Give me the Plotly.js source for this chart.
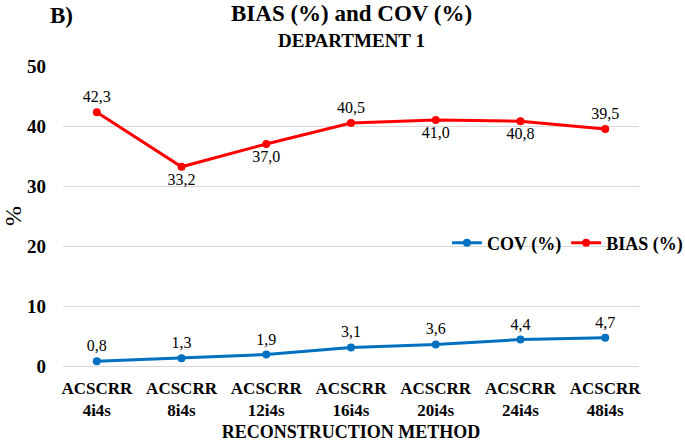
<!DOCTYPE html>
<html>
<head>
<meta charset="utf-8">
<script src="https://cdn.plot.ly/plotly-3.0.1.min.js"></script>
<style>html,body{margin:0;padding:0;background:#fff;}</style>
</head>
<body>
<div id="plotdiv"></div>
<script>
const categories = ['ACSCRR<br>4i4s','ACSCRR<br>8i4s','ACSCRR<br>12i4s','ACSCRR<br>16i4s','ACSCRR<br>20i4s','ACSCRR<br>24i4s','ACSCRR<br>48i4s'];
const covValues = [0.8, 1.3, 1.9, 3.1, 3.6, 4.4, 4.7];
const biasValues = [42.3, 33.2, 37.0, 40.5, 41.0, 40.8, 39.5];
const biasLabelPos = ['top center','bottom center','bottom center','top center','bottom center','bottom center','top center'];

const fmt = v => v.toFixed(1).replace('.', ',');
const F = 'Liberation Serif';

const traces = [
  {
    x: categories, y: covValues, name: '<b>COV (%)</b>', type: 'scatter', mode: 'lines+markers+text',
    line: {color: '#0070C0', width: 3}, marker: {color: '#0070C0', size: 8},
    text: covValues.map(fmt), textposition: 'top center',
    textfont: {family: F, size: 16}, cliponaxis: false
  },
  {
    x: categories, y: biasValues, name: '<b>BIAS (%)</b>', type: 'scatter', mode: 'lines+markers+text',
    line: {color: '#FF0000', width: 3}, marker: {color: '#FF0000', size: 8},
    text: biasValues.map(fmt), textposition: biasLabelPos,
    textfont: {family: F, size: 16}, cliponaxis: false
  }
];

const layout = {
  width: 685, height: 442,
  margin: {l: 63, r: 46, t: 66, b: 76, autoexpand: false},
  font: {family: F, color: '#000000'},
  showlegend: true,
  legend: {orientation: 'h', x: 1.085, xanchor: 'right', y: 0.41, yanchor: 'middle',
           font: {family: F, size: 18}, bgcolor: 'rgba(0,0,0,0)', itemwidth: 30, tracegroupgap: 0},
  xaxis: {
    type: 'category', showgrid: false, zeroline: false, showline: false, ticks: '', automargin: false,
    ticklabelstandoff: 10,
    tickfont: {family: F, size: 17, weight: 'bold'},
    title: {text: '<b>RECONSTRUCTION METHOD</b>', font: {family: F, size: 18}, standoff: 12}
  },
  yaxis: {
    range: [0, 50], dtick: 10, showgrid: true, gridcolor: '#d9d9d9', gridwidth: 1, automargin: false,
    zeroline: true, zerolinecolor: '#d9d9d9', zerolinewidth: 1, showline: false, ticks: '',
    ticklabelstandoff: 16,
    tickfont: {family: F, size: 19, weight: 'bold'},
    title: {text: '%', font: {family: F, size: 24}, standoff: 12}
  },
  annotations: [
    {text: '<b>B)</b>', xref: 'paper', yref: 'paper', x: -0.003, y: 1.17, xanchor: 'center', yanchor: 'middle',
     showarrow: false, font: {family: F, size: 23}},
    {text: '<b>BIAS (%) and COV (%)</b>', xref: 'paper', yref: 'paper', x: 0.5, y: 1.175, xanchor: 'center', yanchor: 'middle',
     showarrow: false, font: {family: F, size: 23}},
    {text: '<b>DEPARTMENT 1</b>', xref: 'paper', yref: 'paper', x: 0.5, y: 1.085, xanchor: 'center', yanchor: 'middle',
     showarrow: false, font: {family: F, size: 19}}
  ]
};

Plotly.newPlot('plotdiv', traces, layout, {displayModeBar: false, staticPlot: true});
</script>
</body>
</html>
